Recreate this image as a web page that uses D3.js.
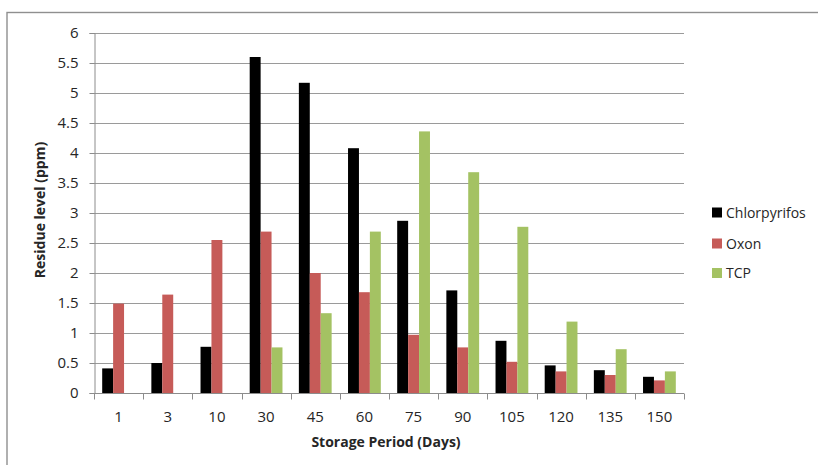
<!DOCTYPE html>
<html>
<head>
<meta charset="utf-8">
<script src="https://cdn.jsdelivr.net/npm/d3@7"></script>
<style>
  html, body { margin: 0; padding: 0; background: #fff; }
  svg { display: block; }
  text { font-family: "Open Sans", "Noto Sans", sans-serif; fill: #262626; }
</style>
</head>
<body>
<svg id="chart" width="818" height="465"></svg>
<script>
const categories = ["1", "3", "10", "30", "45", "60", "75", "90", "105", "120", "135", "150"];
const seriesNames = ["Chlorpyrifos", "Oxon", "TCP"];
const chlorpyrifos = [0.41, 0.50, 0.77, 5.60, 5.17, 4.08, 2.87, 1.71, 0.87, 0.46, 0.38, 0.27];
const oxon = [1.49, 1.64, 2.55, 2.69, 2.00, 1.68, 0.97, 0.76, 0.52, 0.36, 0.30, 0.21];
const tcp = [0, 0, 0, 0.76, 1.33, 2.69, 4.36, 3.68, 2.77, 1.19, 0.73, 0.36];
const yTicks = [0, 0.5, 1, 1.5, 2, 2.5, 3, 3.5, 4, 4.5, 5, 5.5, 6];
const colors = ["#000000", "#C65B58", "#A4C263"];
const xTitle = "Storage Period (Days)";
const yTitle = "Residue level (ppm)";

const seriesValues = [chlorpyrifos, oxon, tcp];
const rows = categories.map((c, i) => ({
  cat: c,
  vals: seriesNames.map((s, j) => ({ key: s, value: seriesValues[j][i], color: colors[j] }))
}));

const svg = d3.select("#chart");
const pLeft = 94, pRight = 684, pTop = 33, pBottom = 393;

// outer border
svg.append("rect")
  .attr("x", 7).attr("y", 12.5).attr("width", 840).attr("height", 500)
  .attr("fill", "none").attr("stroke", "#8f8f8f").attr("stroke-width", 1.4);

const x0 = d3.scaleBand().domain(categories).range([pLeft, pRight]).paddingInner(0).paddingOuter(0);
const x1 = d3.scaleBand().domain(seriesNames).range([0, x0.bandwidth()]).paddingInner(0).paddingOuter(0.75);
const y = d3.scaleLinear().domain([0, 6]).range([pBottom, pTop]);

// gridlines
svg.append("g")
  .selectAll("line")
  .data(yTicks.filter(t => t > 0))
  .join("line")
  .attr("x1", pLeft).attr("x2", pRight)
  .attr("y1", d => Math.round(y(d)) + 0.5).attr("y2", d => Math.round(y(d)) + 0.5)
  .attr("stroke", "#9a9a9a").attr("stroke-width", 1);

// bars
const groups = svg.append("g")
  .selectAll("g")
  .data(rows)
  .join("g")
  .attr("transform", d => `translate(${x0(d.cat)},0)`);

groups.selectAll("rect")
  .data(d => d.vals.filter(v => v.value > 0))
  .join("rect")
  .attr("x", d => x1(d.key))
  .attr("width", x1.bandwidth())
  .attr("y", d => y(d.value))
  .attr("height", d => y(0) - y(d.value))
  .attr("fill", d => d.color);

// y axis
const yAxis = d3.axisLeft(y).tickValues(yTicks).tickSize(5).tickPadding(11)
  .tickFormat(d => d3.format("")(d));
const gy = svg.append("g").attr("transform", `translate(${pLeft + 0.5},0)`).call(yAxis);
gy.select(".domain").attr("stroke", "#8c8c8c");
gy.selectAll(".tick line").attr("stroke", "#8c8c8c");
gy.selectAll(".tick").attr("transform", d => `translate(0,${Math.round(y(d)) + 0.5})`);
gy.selectAll("text").style("font-size", "15px").attr("fill", "#262626")
  .style("font-family", "'Open Sans', sans-serif");

// x axis
const gx = svg.append("g").attr("transform", `translate(0,${pBottom + 0.5})`);
gx.append("line").attr("x1", pLeft).attr("x2", pRight).attr("stroke", "#8c8c8c");
const boundaries = categories.map(c => x0(c)).concat([pRight]);
gx.selectAll("line.tk")
  .data(boundaries)
  .join("line")
  .attr("class", "tk")
  .attr("x1", d => Math.round(d) + 0.5).attr("x2", d => Math.round(d) + 0.5)
  .attr("y1", 0).attr("y2", 6)
  .attr("stroke", "#8c8c8c");
gx.selectAll("text")
  .data(categories)
  .join("text")
  .attr("x", d => x0(d) + x0.bandwidth() / 2)
  .attr("y", 28)
  .attr("text-anchor", "middle")
  .style("font-size", "15px")
  .text(d => d);

// axis titles
svg.append("text")
  .attr("x", (pLeft + pRight) / 2 - 3).attr("y", 447)
  .attr("text-anchor", "middle")
  .style("font-size", "14px").style("font-weight", "bold")
  .text(xTitle);

svg.append("text")
  .attr("transform", `translate(45,${(pTop + pBottom) / 2 - 3}) rotate(-90)`)
  .attr("text-anchor", "middle")
  .style("font-size", "14px").style("font-weight", "bold")
  .text(yTitle);

// legend
const legendY = [212.5, 243.5, 273];
const legend = svg.append("g")
  .selectAll("g")
  .data(seriesNames)
  .join("g")
  .attr("transform", (d, i) => `translate(712,${legendY[i]})`);
legend.append("rect")
  .attr("x", 0).attr("y", -5).attr("width", 10).attr("height", 10)
  .attr("fill", (d, i) => colors[i]);
legend.append("text")
  .attr("x", 14).attr("y", 5)
  .style("font-size", "14px")
  .text(d => d);
</script>
</body>
</html>
